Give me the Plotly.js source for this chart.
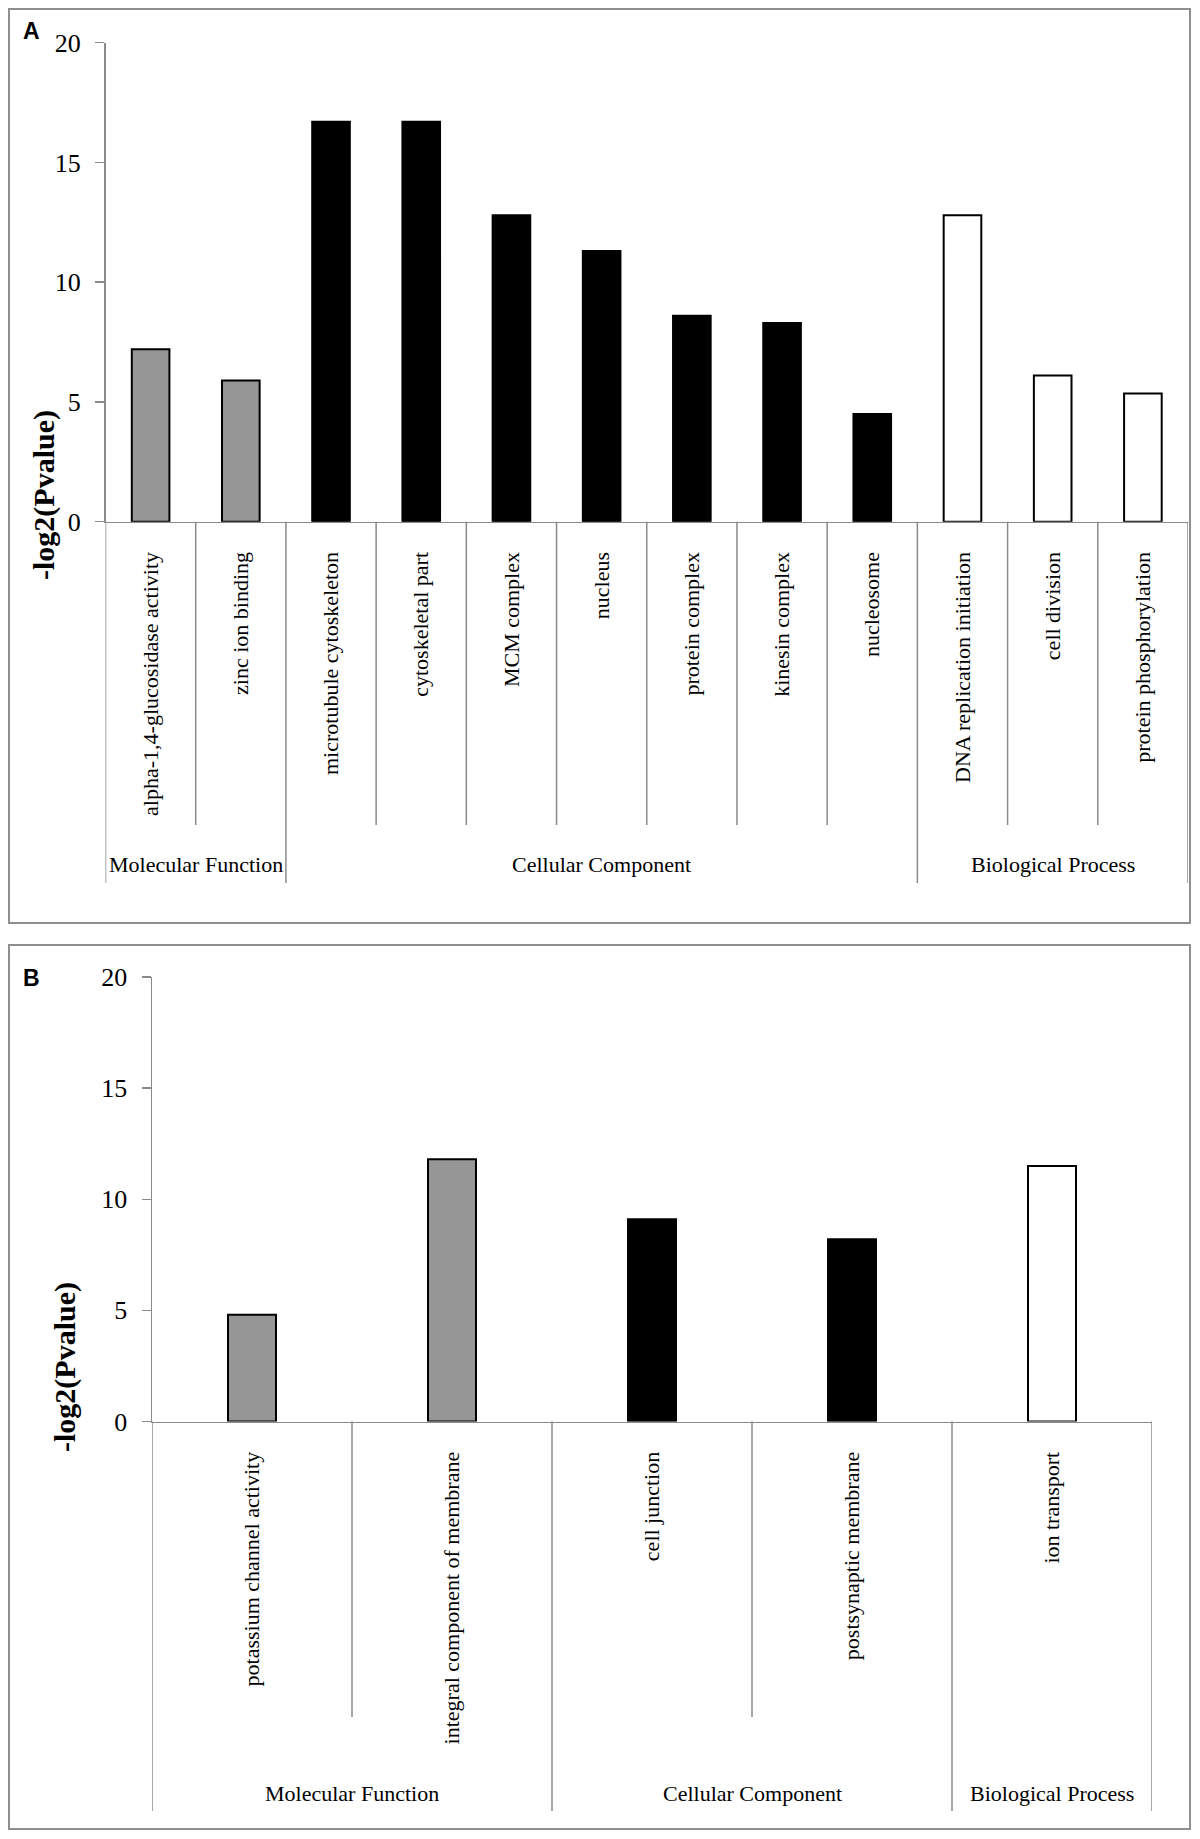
<!DOCTYPE html>
<html>
<head>
<meta charset="utf-8">
<script src="https://cdn.plot.ly/plotly-3.0.1.min.js"></script>
<style>html,body{margin:0;padding:0;background:#fff;}#chart{width:1200px;height:1839px;}</style>
</head>
<body>
<div id="chart"></div>
<script>
// ---- Data: panel A ----
const categoriesA = ['alpha-1,4-glucosidase activity', 'zinc ion binding', 'microtubule cytoskeleton', 'cytoskeletal part', 'MCM complex', 'nucleus', 'protein complex', 'kinesin complex', 'nucleosome', 'DNA replication initiation', 'cell division', 'protein phosphorylation'];
const valuesA = [7.2, 5.9, 16.7, 16.7, 12.8, 11.3, 8.6, 8.3, 4.5, 12.8, 6.1, 5.35];
const groupsA = ['Molecular Function', 'Molecular Function', 'Cellular Component', 'Cellular Component', 'Cellular Component', 'Cellular Component', 'Cellular Component', 'Cellular Component', 'Cellular Component', 'Biological Process', 'Biological Process', 'Biological Process'];

// ---- Data: panel B ----
const categoriesB = ['potassium channel activity', 'integral component of membrane', 'cell junction', 'postsynaptic membrane', 'ion transport'];
const valuesB = [4.8, 11.8, 9.1, 8.2, 11.5];
const groupsB = ['Molecular Function', 'Molecular Function', 'Cellular Component', 'Cellular Component', 'Biological Process'];

const yTicks = [0, 5, 10, 15, 20];
const yTitle = '-log2(Pvalue)';
const panelLetters = ['A', 'B'];

// ---- Styles ----
const W = 1200, H = 1839;
const px = v => v / W;
const py = v => 1 - v / H;
const groupColor = {'Molecular Function': '#969696', 'Cellular Component': '#000000', 'Biological Process': '#ffffff'};
const axisGray = '#8a8a8a';
const serif = 'Liberation Serif, Times New Roman, serif';

const panels = [
  {cats: categoriesA, vals: valuesA, groups: groupsA, xa: 'x', ya: 'y',
   xdom: [px(105.5), px(1188)], ydom: [py(521.7), py(42.7)], barW: 0.417,
   axisY: 521.7, sepShort: 825, sepLong: 883, groupLabelY: 864,
   border: [9, 9, 1190, 923], title: [44, 495], letter: [31, 31]},
  {cats: categoriesB, vals: valuesB, groups: groupsB, xa: 'x2', ya: 'y2',
   xdom: [px(152), px(1152)], ydom: [py(1421.5), py(977)], barW: 0.24,
   axisY: 1421.5, sepShort: 1717, sepLong: 1811, groupLabelY: 1793,
   border: [9, 945, 1190, 1829], title: [65, 1367], letter: [31, 978]}
];

const traces = [];
const shapes = [];
const annotations = [];
const layout = {
  width: W, height: H,
  margin: {l: 0, r: 0, t: 0, b: 0},
  paper_bgcolor: '#fff', plot_bgcolor: '#fff',
  showlegend: false,
  font: {family: serif, color: '#000'}
};

panels.forEach((p, k) => {
  traces.push({
    type: 'bar', x: p.cats, y: p.vals, xaxis: p.xa, yaxis: p.ya,
    width: p.barW,
    marker: {color: p.groups.map(g => groupColor[g]), line: {color: '#000', width: 2}},
    hoverinfo: 'x+y'
  });
  const xk = k === 0 ? 'xaxis' : 'xaxis2';
  const yk = k === 0 ? 'yaxis' : 'yaxis2';
  layout[xk] = {
    domain: p.xdom, anchor: p.ya, type: 'category',
    showline: true, linecolor: axisGray, linewidth: 1.5,
    ticks: '', showgrid: false, zeroline: false,
    tickangle: -90, ticklabelstandoff: 20,
    tickfont: {family: serif, size: 22, color: '#000'},
    range: [-0.5, p.cats.length - 0.5], fixedrange: true, automargin: false
  };
  layout[yk] = {
    domain: p.ydom, anchor: p.xa, range: [0, 20],
    tickmode: 'array', tickvals: yTicks, ticktext: yTicks.map(String),
    ticks: 'outside', ticklen: 9, tickwidth: 1.5, tickcolor: axisGray,
    showline: true, linecolor: axisGray, linewidth: 1.5,
    showgrid: false, zeroline: false, ticklabelstandoff: 9,
    tickfont: {family: serif, size: 26, color: '#000'},
    fixedrange: true, automargin: false
  };
  // panel border
  shapes.push({type: 'rect', xref: 'paper', yref: 'paper',
    x0: px(p.border[0]), x1: px(p.border[2]), y0: py(p.border[3]), y1: py(p.border[1]),
    line: {color: '#8f8f8f', width: 2}, fillcolor: 'rgba(0,0,0,0)', layer: 'below'});
  // category separators
  const n = p.cats.length;
  for (let i = 0; i <= n; i++) {
    const isGroupEdge = i === 0 || i === n || p.groups[i] !== p.groups[i - 1];
    shapes.push({type: 'line', xref: p.xa, yref: 'paper',
      x0: i - 0.5, x1: i - 0.5, y0: py(p.axisY), y1: py(isGroupEdge ? p.sepLong : p.sepShort),
      line: {color: axisGray, width: 1.5}});
  }
  // group labels
  const uniq = [...new Set(p.groups)];
  uniq.forEach(g => {
    const idx = p.groups.map((v, i) => v === g ? i : -1).filter(i => i >= 0);
    const c = (idx[0] + idx[idx.length - 1]) / 2;
    annotations.push({xref: p.xa, yref: 'paper', x: c, y: py(p.groupLabelY),
      text: g, showarrow: false, xanchor: 'center', yanchor: 'middle',
      font: {family: serif, size: 22, color: '#000'}});
  });
  // y title
  annotations.push({xref: 'paper', yref: 'paper', x: px(p.title[0]), y: py(p.title[1]),
    text: '<b>' + yTitle + '</b>', textangle: -90, showarrow: false,
    xanchor: 'center', yanchor: 'middle',
    font: {family: serif, size: 30, color: '#000'}});
  // panel letter
  annotations.push({xref: 'paper', yref: 'paper', x: px(p.letter[0]), y: py(p.letter[1]),
    text: '<b>' + panelLetters[k] + '</b>', showarrow: false,
    xanchor: 'center', yanchor: 'middle',
    font: {family: 'Liberation Sans, Arial, sans-serif', size: 23, color: '#000'}});
});

layout.shapes = shapes;
layout.annotations = annotations;

Plotly.newPlot('chart', traces, layout, {displayModeBar: false, staticPlot: true});
</script>
</body>
</html>
